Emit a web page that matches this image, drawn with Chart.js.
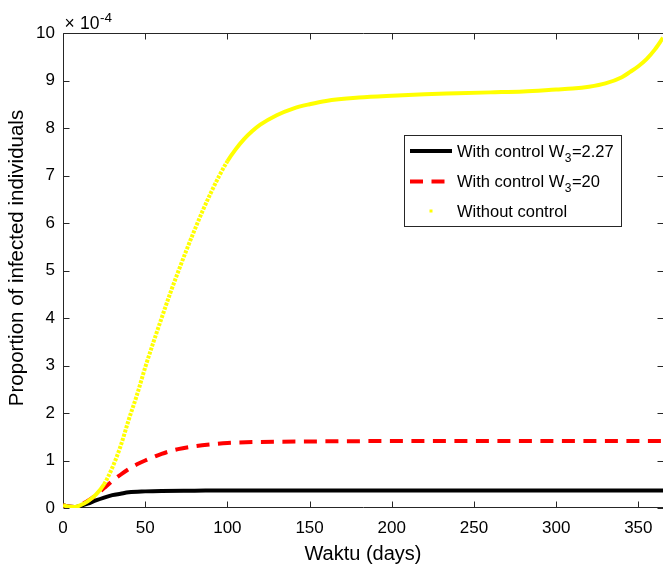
<!DOCTYPE html>
<html><head><meta charset="utf-8">
<script src="https://cdn.jsdelivr.net/npm/chart.js@4/dist/chart.umd.min.js"></script>
<style>html,body{margin:0;padding:0;background:#fff;overflow:hidden}#wrap{width:663px;height:569px;position:relative}</style>
</head><body><div id="wrap"><canvas id="c" width="663" height="569"></canvas></div>
<script>
// Values are in units of 1e-4 (axis multiplier shown as ×10^-4)
const daysWithout = [0,3,7,10,15,20,25,30,35,40,45,50,55,60,65,70,75,80,85,90,95,100,105,110,115,120,130,140,150,160,180,200,220,240,260,280,300,310,320,330,340,345,350,355,360,365];
const valuesWithout = [0.06,0.03,0.02,0.05,0.14,0.28,0.5,0.85,1.3,1.86,2.38,2.96,3.49,4.0,4.5,4.97,5.42,5.85,6.26,6.64,6.99,7.3,7.55,7.76,7.93,8.07,8.27,8.41,8.5,8.57,8.64,8.68,8.71,8.73,8.75,8.77,8.81,8.83,8.87,8.94,9.07,9.18,9.3,9.45,9.65,9.9];

const daysW20 = [0,3,7,10,15,20,25,30,35,40,45,50,60,70,80,90,100,120,150,200,250,300,365];
const valuesW20 = [0.06,0.03,0.02,0.06,0.15,0.27,0.42,0.57,0.70,0.82,0.92,1.0,1.14,1.24,1.3,1.34,1.37,1.39,1.40,1.41,1.41,1.41,1.41];

const daysW227 = [0,3,7,10,15,20,25,30,35,40,50,60,80,100,150,200,250,300,365];
const valuesW227 = [0.06,0.03,0.02,0.04,0.09,0.16,0.22,0.27,0.3,0.33,0.35,0.36,0.365,0.37,0.37,0.37,0.37,0.37,0.37];

const xTickStep = 50;
const yTickStep = 1;
const labels = ["With control W_3=2.27", "With control W_3=20", "Without control"];
const xTitle = "Waktu (days)";
const yTitle = "Proportion of infected individuals";
const multiplierBase = "×10";
const multiplierExp = "-4";

const FONT = "'Liberation Sans', Arial, Helvetica, sans-serif";
const toPts = (xs, ys) => xs.map((x, i) => ({x: x, y: ys[i]}));

const boxPlugin = {
  id: 'matlabBox',
  beforeDatasetsDraw(chart) {
    const {ctx, chartArea: a, scales: {x, y}} = chart;
    ctx.save();
    ctx.strokeStyle = '#262626';
    ctx.lineWidth = 1;
    const L = a.left + 0.5, R = a.right + 0.5, T = a.top + 0.5, B = a.bottom - 0.5;
    ctx.beginPath();
    ctx.moveTo(L, T); ctx.lineTo(R, T); ctx.lineTo(R, B); ctx.lineTo(L, B); ctx.closePath();
    ctx.stroke();
    const tl = 6;
    ctx.beginPath();
    x.ticks.forEach(t => {
      const px = Math.round(x.getPixelForValue(t.value)) + 0.5;
      ctx.moveTo(px, B); ctx.lineTo(px, B - tl);
      ctx.moveTo(px, T); ctx.lineTo(px, T + tl);
    });
    y.ticks.forEach(t => {
      const py = Math.round(y.getPixelForValue(t.value)) + 0.5;
      ctx.moveTo(L, py); ctx.lineTo(L + tl, py);
      ctx.moveTo(R, py); ctx.lineTo(R - tl, py);
    });
    ctx.stroke();
    ctx.restore();
  },
  afterDraw(chart) {
    const {ctx} = chart;
    ctx.save();
    ctx.fillStyle = '#000';
    // y title
    ctx.font = '20.5px ' + FONT;
    ctx.textAlign = 'center';
    ctx.textBaseline = 'middle';
    ctx.translate(17.5, 258);
    ctx.rotate(-Math.PI / 2);
    ctx.fillText(yTitle, 0, 0);
    ctx.restore();
    // multiplier
    ctx.save();
    ctx.fillStyle = '#000';
    ctx.textBaseline = 'alphabetic';
    ctx.textAlign = 'left';
    ctx.font = '17.5px ' + FONT;
    ctx.fillText(multiplierBase.charAt(0), 64.5, 28.5);
    ctx.fillText(multiplierBase.slice(1), 80, 28.5);
    const w = ctx.measureText(multiplierBase.slice(1)).width;
    ctx.font = '13.5px ' + FONT;
    ctx.fillText(multiplierExp, 80 + w + 0.5, 21.5);
    ctx.restore();
    // legend
    ctx.save();
    const bx = 404.5, by = 135.5, bw = 217, bh = 91;
    ctx.fillStyle = '#fff';
    ctx.fillRect(bx, by, bw, bh);
    ctx.strokeStyle = '#262626';
    ctx.lineWidth = 1;
    ctx.strokeRect(bx, by, bw, bh);
    const rows = [156.5, 187, 216.5];
    chart.data.datasets.forEach((ds, i) => {
      const base = rows[i];
      const ly = base - 5.5;
      if (ds.legendDot) {
        ctx.fillStyle = ds.borderColor;
        ctx.fillRect(429.5, ly - 1.5, 3, 3);
      } else {
        ctx.strokeStyle = ds.borderColor;
        ctx.lineWidth = ds.borderWidth;
        ctx.setLineDash(ds.borderDash || []);
        ctx.beginPath();
        ctx.moveTo(410, ly); ctx.lineTo(452, ly);
        ctx.stroke();
        ctx.setLineDash([]);
      }
      ctx.fillStyle = '#000';
      ctx.textBaseline = 'alphabetic';
      ctx.textAlign = 'left';
      let tx = 457;
      const parts = ds.label.split(/_(\d+)/);
      parts.forEach((p, k) => {
        if (k % 2 === 1) {
          ctx.font = '12px ' + FONT;
          ctx.fillText(p, tx + 0.5, base + 5);
          tx += ctx.measureText(p).width + 1;
        } else {
          ctx.font = '16.5px ' + FONT;
          ctx.fillText(p, tx, base);
          tx += ctx.measureText(p).width;
        }
      });
    });
    ctx.restore();
  }
};

new Chart(document.getElementById('c'), {
  type: 'line',
  data: {
    datasets: [
      {label: labels[0], data: toPts(daysW227, valuesW227), borderColor: '#000000', borderWidth: 4,
       pointRadius: 0, cubicInterpolationMode: 'monotone', order: 3},
      {label: labels[1], data: toPts(daysW20, valuesW20), borderColor: '#ff0000', borderWidth: 4,
       borderDash: [13, 8.5], pointRadius: 0, cubicInterpolationMode: 'monotone', order: 2},
      {label: labels[2], data: toPts(daysWithout, valuesWithout), borderColor: '#ffff00', borderWidth: 4,
       pointRadius: 0, cubicInterpolationMode: 'monotone', order: 1, legendDot: true,
       segment: {
         borderDash: c => (Math.abs(c.p1.y - c.p0.y) > 1.6 * Math.abs(c.p1.x - c.p0.x)) ? [3, 1.3] : undefined
       }}
    ]
  },
  options: {
    responsive: false,
    animation: false,
    devicePixelRatio: 1,
    layout: {padding: {top: 33, right: 0, bottom: 0, left: 0}},
    plugins: {legend: {display: false}, tooltip: {enabled: false}},
    scales: {
      x: {
        type: 'linear', min: 0, max: 365,
        ticks: {stepSize: xTickStep, includeBounds: false, font: {size: 17, family: FONT}, color: '#000', padding: 10, maxRotation: 0, autoSkip: false},
        grid: {display: false, drawTicks: false},
        border: {display: false},
        title: {display: true, text: xTitle, font: {size: 20, family: FONT}, color: '#000', padding: {top: 0, bottom: 3}},
        afterFit: s => { s.height = 61; }
      },
      y: {
        type: 'linear', min: 0, max: 10,
        ticks: {stepSize: yTickStep, includeBounds: false, font: {size: 17, family: FONT}, color: '#000', padding: 8},
        grid: {display: false, drawTicks: false},
        border: {display: false},
        afterFit: s => { s.width = 63; }
      }
    }
  },
  plugins: [boxPlugin]
});
</script>
</body></html>
